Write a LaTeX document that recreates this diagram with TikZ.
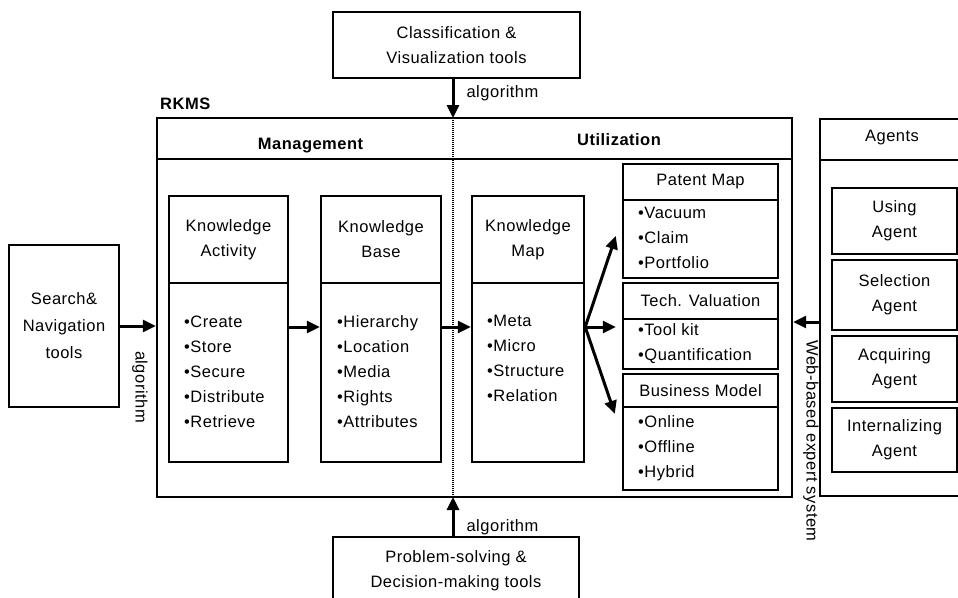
\documentclass[tikz,border=0pt]{standalone}
\usepackage{fontspec}
\setmainfont{Liberation Sans}[LetterSpace=3]
\usetikzlibrary{arrows.meta,calc}
\begin{document}
\begin{tikzpicture}[x=1pt,y=-1pt,
  font=\fontsize{16.5}{25}\selectfont,
  box/.style={draw, line width=2.4pt, inner sep=0pt, align=center},
  sz/.style 2 args={minimum width=#1, minimum height=#2},
  itemlist/.style={anchor=west, align=left, inner sep=0pt},
  heading/.style={font=\fontsize{16.5}{25}\selectfont\bfseries, inner sep=0pt},
  lbl/.style={inner sep=0pt},
  arr/.style={line width=3pt, -{Triangle[length=13pt,width=12pt]}},
  divider/.style={line width=2.4pt, dash pattern=on 1.2pt off 0.8pt}
]
\useasboundingbox (0,0) rectangle (958,597);
\clip (0,0) rectangle (958,597);

% outside tools
\node[box, sz={247}{66}] (cls) at (456.5,45) {Classification \&\\Visualization tools};
\node[box, sz={246}{67}] (prb) at (456,570.5) {Problem-solving \&\\Decision-making tools};
\node[box, sz={110}{162}, font=\fontsize{16.5}{27}\selectfont] (srch) at (64,326) {Search\&\\Navigation\\tools};

% RKMS frame with its two columns
\node[heading, anchor=west] (rkmslbl) at (160,104) {RKMS};
\node[box, sz={635}{379}] (rkms) at (474.5,307.5) {};
\draw[line width=2.4pt] ($(rkms.north west)+(0,42)$) -- ($(rkms.north east)+(0,42)$);
\node[heading] (mgmt) at (310.5,146) {Management};
\node[heading] (util) at (619,140) {Utilization};

% knowledge activity / base / map
\node[box, sz={119}{87}] (ka-h) at (228.5,239.5) {Knowledge\\Activity};
\node[box, sz={119}{179}] (ka-b) at (228.5,372.5) {};
\node[itemlist] (ka-l) at (184,371.5) {•Create\\•Store\\•Secure\\•Distribute\\•Retrieve};

\node[box, sz={120}{87}] (kb-h) at (381,239.5) {Knowledge\\Base};
\node[box, sz={120}{179}] (kb-b) at (381,372.5) {};
\node[itemlist] (kb-l) at (337,371.5) {•Hierarchy\\•Location\\•Media\\•Rights\\•Attributes};

\node[box, sz={112}{87}] (km-h) at (528,239.5) {Knowledge\\Map};
\node[box, sz={112}{179}] (km-b) at (528,372.5) {};
\node[itemlist] (km-l) at (487,358.5) {•Meta\\•Micro\\•Structure\\•Relation};

% utilization outputs
\node[box, sz={155}{36}] (pm-h) at (700.5,182) {Patent Map};
\node[box, sz={155}{78}] (pm-b) at (700.5,239) {};
\node[itemlist] (pm-l) at (638,237.5) {•Vacuum\\•Claim\\•Portfolio};

\node[box, sz={155}{36}] (tv-h) at (700.5,301) {Tech. Valuation};
\node[box, sz={155}{50}] (tv-b) at (700.5,344) {};
\node[itemlist] (tv-l) at (638,343.5) {•Tool kit\\•Quantification};

\node[box, sz={155}{33}] (bm-h) at (700.5,390.5) {Business Model};
\node[box, sz={155}{83}] (bm-b) at (700.5,448.5) {};
\node[itemlist] (bm-l) at (638,448) {•Online\\•Offline\\•Hybrid};

% agents
\node[box, sz={152}{377}] (agt) at (896,307.5) {};
\draw[line width=2.4pt] ($(agt.north west)+(0,42)$) -- ($(agt.north east)+(0,42)$);
\node[lbl] (agtlbl) at (892,138) {Agents};
\node[box, sz={125}{66}] (ag1) at (894.5,221) {Using\\Agent};
\node[box, sz={125}{70}] (ag2) at (894.5,295) {Selection\\Agent};
\node[box, sz={125}{66}] (ag3) at (894.5,369) {Acquiring\\Agent};
\node[box, sz={125}{64}] (ag4) at (894.5,440) {Internalizing\\Agent};

% management / utilization split and the tool inputs
\coordinate (divtop) at (453,118);
\coordinate (divbot) at (453,497);
\draw[divider] (divtop) -- (divbot);
\draw[arr] (cls.south -| divtop) -- (divtop);
\draw[arr] (prb.north -| divbot) -- (divbot);
\node[lbl] (alg-t) at (502.5,93) {algorithm};
\node[lbl] (alg-b) at (502.5,527) {algorithm};

\draw[arr] (srch.east) -- (srch.east -| rkms.west);
\node[lbl, rotate=-90] (alg-l) at (140,387) {algorithm};

% flow between the knowledge stages
\coordinate (row) at (0,327);
\draw[arr] (ka-b.east |- row) -- (kb-b.west |- row);
\draw[arr] (kb-b.east |- row) -- (km-b.west |- row);
\coordinate (fan) at (km-b.east |- row);
\draw[arr] (fan) -- ($(pm-b.west)+(-6,-3)$);
\draw[arr] (fan) -- ($(fan -| tv-b.west)+(-6,0)$);
\draw[arr] (fan) -- ($(bm-b.north west)+(-7,8)$);

% expert system link
\coordinate (wrow) at (0,322);
\draw[arr] (agt.west |- wrow) -- (rkms.east |- wrow);
\node[lbl, rotate=-90] (web) at (811,441) {Web-based expert system};
\end{tikzpicture}
\end{document}
